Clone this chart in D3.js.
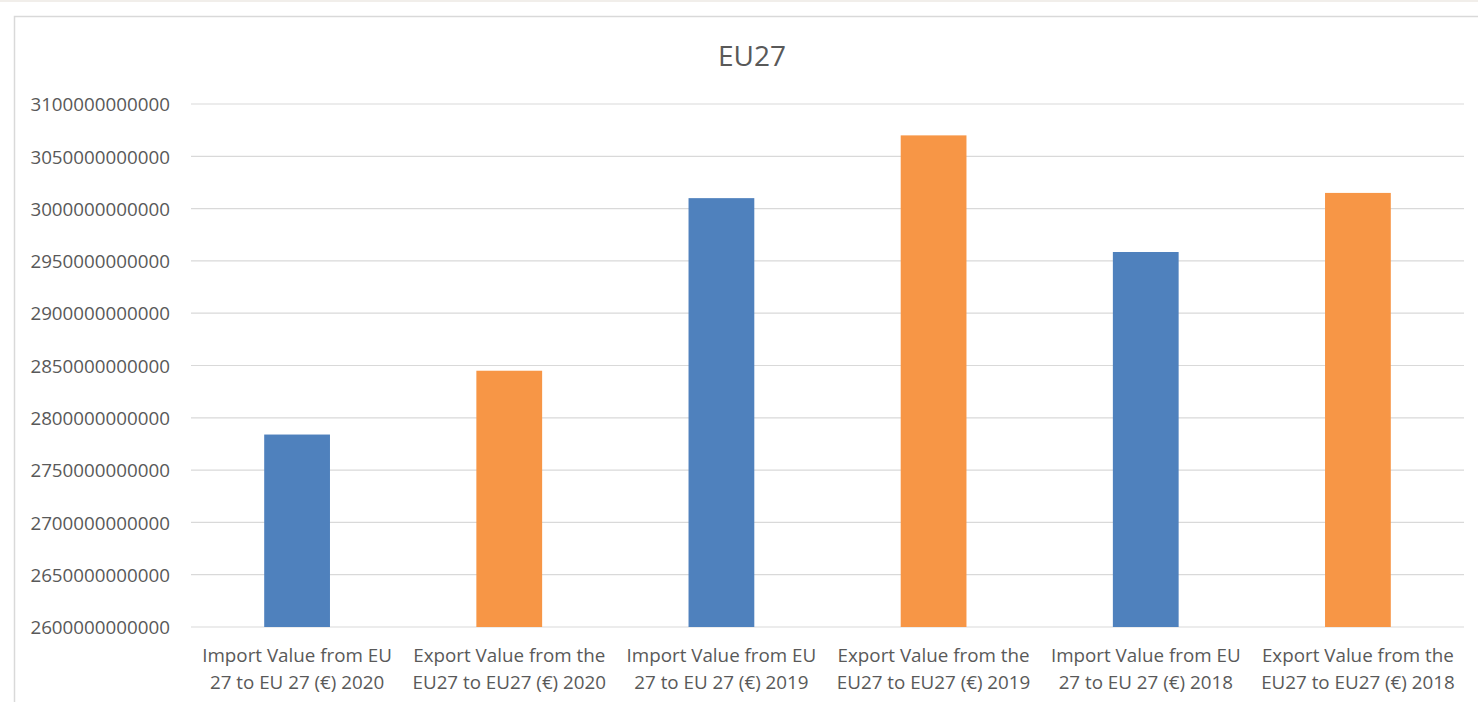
<!DOCTYPE html>
<html>
<head>
<meta charset="utf-8">
<script src="https://cdn.jsdelivr.net/npm/d3@7"></script>
<style>
  html, body { margin: 0; padding: 0; background: #ffffff; }
  svg { display: block; }
  text { font-family: "Open Sans", "Liberation Sans", sans-serif; fill: #595959; }
</style>
</head>
<body>
<script>
const title = "EU27";
const categories = [
  ["Import Value from EU", "27 to EU 27 (€) 2020"],
  ["Export Value from the", "EU27 to EU27 (€) 2020"],
  ["Import Value from EU", "27 to EU 27 (€) 2019"],
  ["Export Value from the", "EU27 to EU27 (€) 2019"],
  ["Import Value from EU", "27 to EU 27 (€) 2018"],
  ["Export Value from the", "EU27 to EU27 (€) 2018"]
];
const values = [2784e9, 2845e9, 3010e9, 3070e9, 2958.5e9, 3015e9];
const barKinds = ["import", "export", "import", "export", "import", "export"];
const yTicks = [2600e9, 2650e9, 2700e9, 2750e9, 2800e9, 2850e9, 2900e9, 2950e9, 3000e9, 3050e9, 3100e9];
const colors = { import: "#4F81BD", export: "#F79646" };

const W = 1478, H = 702;
const svg = d3.select("body").append("svg").attr("width", W).attr("height", H);

// top strip & chart frame
svg.append("rect").attr("x", 0).attr("y", 0).attr("width", W).attr("height", 2).attr("fill", "#f1eeea");
svg.append("rect").attr("x", 14.5).attr("y", 16.5).attr("width", W + 10).attr("height", H + 10)
  .attr("fill", "#ffffff").attr("stroke", "#d9d9d9").attr("stroke-width", 1.5);

const plot = { left: 191, right: 1464, top: 104, bottom: 627 };

const x = d3.scaleBand()
  .domain(d3.range(categories.length))
  .range([plot.left, plot.right])
  .paddingInner(0.69).paddingOuter(0.345);

const y = d3.scaleLinear().domain([2600e9, 3100e9]).range([plot.bottom, plot.top]);

// gridlines
svg.append("g").selectAll("line").data(yTicks).join("line")
  .attr("x1", plot.left).attr("x2", plot.right)
  .attr("y1", d => y(d)).attr("y2", d => y(d))
  .attr("stroke", "#d9d9d9").attr("stroke-width", 1.2);

// y axis labels
const yAxis = d3.axisLeft(y).tickValues(yTicks).tickSize(0).tickPadding(0)
  .tickFormat(d => d3.format("d")(Math.round(d)));
const ya = svg.append("g").attr("transform", `translate(170,0)`).call(yAxis);
ya.select(".domain").remove();
ya.selectAll("text").attr("font-size", "18.8px").attr("font-family", "Open Sans, sans-serif")
  .attr("fill", "#595959").attr("dy", "0.36em");

// bars
svg.append("g").selectAll("rect").data(values).join("rect")
  .attr("x", (d, i) => x(i))
  .attr("width", x.bandwidth())
  .attr("y", d => y(d))
  .attr("height", d => y(2600e9) - y(d))
  .attr("fill", (d, i) => colors[barKinds[i]]);

// category labels
const cl = svg.append("g").selectAll("text").data(categories).join("text")
  .attr("text-anchor", "middle")
  .attr("font-size", "18.8px")
  .attr("x", (d, i) => x(i) + x.bandwidth() / 2);
cl.selectAll("tspan").data(d => d).join("tspan")
  .attr("x", function() { return d3.select(this.parentNode).attr("x"); })
  .attr("y", (d, j) => 662 + j * 27)
  .text(d => d);

// title
svg.append("text").attr("x", 752).attr("y", 66).attr("text-anchor", "middle")
  .attr("font-size", "28px").text(title);
</script>
</body>
</html>
